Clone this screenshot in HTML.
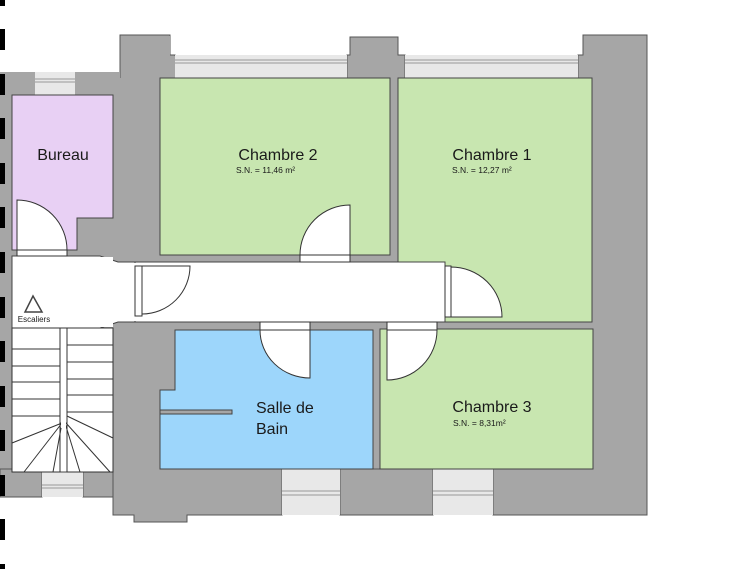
<!DOCTYPE html>
<html><head><meta charset="utf-8"><style>
html,body{margin:0;padding:0;background:#fff;}
svg{display:block;font-family:"Liberation Sans",sans-serif;}
</style></head><body>
<svg width="736" height="569" viewBox="0 0 736 569" xmlns="http://www.w3.org/2000/svg">
<g fill="#a6a6a6" stroke="#555" stroke-width="1">
<rect x="0" y="72" width="647" height="397" stroke="none"/>
<path d="M120 78 V35 H170 V55 H175 V78" />
<path d="M347 78 V55 H350 V37 H398 V55 H405 V78"/>
<path d="M578 78 V55 H583 V35 H647 V469" />
<rect x="0" y="469" width="42" height="28"/>
<rect x="83" y="469" width="30" height="28"/>
<path d="M113 469 V515 H134 V522 H187 V515 H282 V469"/>
<rect x="340" y="469" width="93" height="46"/>
<path d="M493 469 V515 H647 V469"/>
</g>
<rect x="121" y="36" width="49" height="42" fill="#a6a6a6"/>
<rect x="171" y="56" width="4" height="22" fill="#a6a6a6"/>
<rect x="348" y="56" width="56" height="22" fill="#a6a6a6"/>
<rect x="351" y="38" width="46" height="20" fill="#a6a6a6"/>
<rect x="579" y="56" width="67" height="412" fill="#a6a6a6"/>
<rect x="584" y="36" width="62" height="22" fill="#a6a6a6"/>
<rect x="114" y="468" width="167" height="46" fill="#a6a6a6"/>
<rect x="135" y="510" width="51" height="11" fill="#a6a6a6"/>
<rect x="0" y="72" width="120" height="23" fill="#a6a6a6"/>
<g fill="#e8e8e8">
<rect x="35" y="72" width="40" height="23"/>
<rect x="175" y="55" width="172" height="23"/>
<rect x="405" y="55" width="173" height="23"/>
<rect x="42" y="469" width="41" height="28"/>
<rect x="282" y="469" width="58" height="46"/>
<rect x="433" y="469" width="60" height="46"/>
</g>
<g stroke="#999" stroke-width="1">
<line x1="35" y1="79" x2="75" y2="79"/><line x1="35" y1="82" x2="75" y2="82"/>
<line x1="175" y1="60" x2="347" y2="60"/><line x1="175" y1="63" x2="347" y2="63"/>
<line x1="405" y1="60" x2="578" y2="60"/><line x1="405" y1="63" x2="578" y2="63"/>
<line x1="42" y1="485" x2="83" y2="485"/><line x1="42" y1="488" x2="83" y2="488"/>
<line x1="282" y1="491" x2="340" y2="491"/><line x1="282" y1="495" x2="340" y2="495"/>
<line x1="433" y1="491" x2="493" y2="491"/><line x1="433" y1="495" x2="493" y2="495"/>
</g>
<g stroke="#444" stroke-width="1">
<path d="M12 95 H113 V218 H77 V250 H12 Z" fill="#e8d0f4"/>
<rect x="160" y="78" width="230" height="177" fill="#c8e6b0"/>
<rect x="398" y="78" width="194" height="244" fill="#c8e6b0"/>
<path d="M175 330 H373 V469 H160 V390 H175 Z" fill="#9dd6fb"/>
<rect x="380" y="329" width="213" height="140" fill="#c8e6b0"/>
</g>
<rect x="160" y="410" width="72" height="4" fill="#a6a6a6" stroke="#444" stroke-width="1"/>
<path d="M12 256 H100 L118 262 H135 V322 H118 L100 328 H113 V472 H12 Z" fill="#fff" stroke="#444" stroke-width="1"/>
<rect x="13" y="257" width="100" height="70" fill="#fff"/>
<rect x="135" y="262" width="310" height="60" fill="#fff" stroke="#444" stroke-width="1"/>
<rect x="130" y="263" width="10" height="58" fill="#fff"/>
<g stroke="#333" stroke-width="1" fill="none">
<rect x="12" y="328" width="48" height="144" fill="#fff"/>
<rect x="67" y="328" width="46" height="144" fill="#fff"/>
<rect x="60" y="328" width="7" height="95" fill="#fff"/>
<line x1="12" y1="349" x2="60" y2="349"/><line x1="12" y1="366" x2="60" y2="366"/>
<line x1="12" y1="382" x2="60" y2="382"/><line x1="12" y1="399" x2="60" y2="399"/>
<line x1="12" y1="416" x2="60" y2="416"/>
<line x1="67" y1="345" x2="113" y2="345"/><line x1="67" y1="362" x2="113" y2="362"/>
<line x1="67" y1="379" x2="113" y2="379"/><line x1="67" y1="395" x2="113" y2="395"/>
<line x1="67" y1="412" x2="113" y2="412"/>
<line x1="62" y1="423" x2="12" y2="443"/><line x1="62" y1="423" x2="24" y2="472"/>
<line x1="62" y1="423" x2="53" y2="472"/><line x1="65" y1="423" x2="80" y2="472"/>
<line x1="66" y1="423" x2="110" y2="472"/><line x1="67" y1="416" x2="113" y2="438"/>
</g>
<rect x="61" y="418" width="5" height="10" fill="#fff"/>
<g stroke="#333" stroke-width="1" fill="#fff">
<path d="M17 200 A50 50 0 0 1 67 250 H17 Z"/>
<rect x="17" y="250" width="50" height="6"/>
<rect x="135" y="266" width="7" height="50"/>
<path d="M142 266 H190 A48 48 0 0 1 142 314 Z"/>
<path d="M350 205 V255 H300 A50 50 0 0 1 350 205 Z"/>
<rect x="300" y="255" width="50" height="7"/>
<rect x="445" y="266" width="6" height="51"/>
<path d="M451 267 A51 50 0 0 1 502 317 H451 Z"/>
<rect x="260" y="322" width="50" height="8"/>
<path d="M260 330 H310 V378 A50 48 0 0 1 260 330 Z"/>
<rect x="387" y="322" width="50" height="8"/>
<path d="M387 330 H437 A50 50 0 0 1 387 380 Z"/>
</g>
<g fill="#000">
<rect x="0" y="0" width="5" height="6"/>
<rect x="0" y="29" width="5" height="21"/>
<rect x="0" y="74" width="5" height="21"/>
<rect x="0" y="118" width="5" height="21"/>
<rect x="0" y="163" width="5" height="21"/>
<rect x="0" y="207" width="5" height="21"/>
<rect x="0" y="252" width="5" height="21"/>
<rect x="0" y="297" width="5" height="21"/>
<rect x="0" y="341" width="5" height="21"/>
<rect x="0" y="386" width="5" height="21"/>
<rect x="0" y="430" width="5" height="21"/>
<rect x="0" y="475" width="5" height="21"/>
<rect x="0" y="519" width="5" height="21"/>
<rect x="0" y="564" width="5" height="6"/>
</g>
<g fill="#1a1a1a">
<text x="63" y="160" font-size="16" text-anchor="middle">Bureau</text>
<path d="M33 296 L25 312 H42 Z" fill="none" stroke="#444" stroke-width="1.5"/>
<text x="34" y="322" font-size="8" text-anchor="middle">Escaliers</text>
<text x="278" y="160" font-size="16" text-anchor="middle">Chambre 2</text>
<text x="236" y="173" font-size="8.5">S.N. = 11,46 m²</text>
<text x="492" y="160" font-size="16" text-anchor="middle">Chambre 1</text>
<text x="452" y="173" font-size="8.5">S.N. = 12,27 m²</text>
<text x="256" y="413" font-size="16">Salle de</text>
<text x="256" y="434" font-size="16">Bain</text>
<text x="492" y="412" font-size="16" text-anchor="middle">Chambre 3</text>
<text x="453" y="426" font-size="8.5">S.N. = 8,31m²</text>
</g>
</svg>
</body></html>
